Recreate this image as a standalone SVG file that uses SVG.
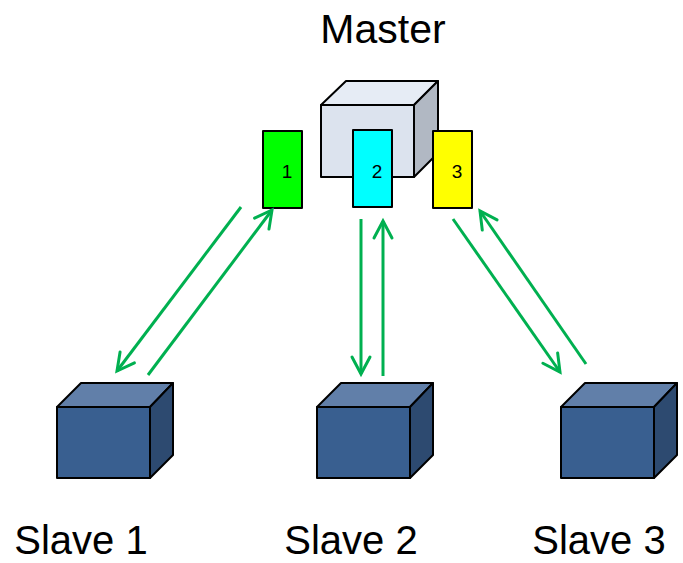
<svg xmlns="http://www.w3.org/2000/svg" width="683" height="563" viewBox="0 0 683 563">
<defs>
<marker id="ah" markerUnits="userSpaceOnUse" markerWidth="40" markerHeight="40" refX="0" refY="0" viewBox="-20 -20 40 40" orient="auto" overflow="visible">
<path d="M-17,-9 L0,0 L-17,9" fill="none" stroke="#00B050" stroke-width="3" stroke-linecap="round" stroke-linejoin="miter"/>
</marker>
</defs>
<style>
.edge{stroke:#00B050;stroke-width:3;fill:none;marker-end:url(#ah)}
.bx{stroke:#000;stroke-width:2;stroke-linejoin:round}
.sf{fill:#395F90}.st{fill:#617FA9}.sr{fill:#2D4A70}
.mf{fill:#DCE3EE}.mt{fill:#E6ECF5}.mr{fill:#B1B8C3}
.lbl{font-family:"Liberation Sans",Arial,sans-serif;font-size:40px;fill:#000}
.num{font-family:"Liberation Sans",Arial,sans-serif;font-size:19px;fill:#000;text-anchor:middle}
</style>
<rect width="683" height="563" fill="#fff"/>
<g id="master">
<polygon class="bx mt" points="321,105 346,81 438,81 414,105"/>
<polygon class="bx mr" points="414,105 438,81 438,153 414,177"/>
<rect class="bx mf" x="321" y="105" width="93" height="72"/>
<text class="lbl" x="383" y="43" text-anchor="middle" style="font-size:41px">Master</text>
</g>
<g id="buf1">
<rect class="bx" x="263" y="131" width="39" height="77" fill="#00FF00"/>
<text class="num" x="287" y="178">1</text>
</g>
<g id="buf2">
<rect class="bx" x="353" y="130" width="39" height="77" fill="#00FFFF"/>
<text class="num" x="377" y="178">2</text>
</g>
<g id="buf3">
<rect class="bx" x="433" y="131" width="39" height="77" fill="#FFFF00"/>
<text class="num" x="457" y="178">3</text>
</g>
<g id="slave1">
<polygon class="bx st" points="57,407 81,383 173,383 150,407"/>
<polygon class="bx sr" points="150,407 173,383 173,455 150,478"/>
<rect class="bx sf" x="57" y="407" width="93" height="71"/>
<text class="lbl" x="81" y="554" text-anchor="middle">Slave 1</text>
</g>
<g id="slave2">
<polygon class="bx st" points="317,407 341,383 433,383 410,407"/>
<polygon class="bx sr" points="410,407 433,383 433,455 410,478"/>
<rect class="bx sf" x="317" y="407" width="93" height="71"/>
<text class="lbl" x="351" y="554" text-anchor="middle">Slave 2</text>
</g>
<g id="slave3">
<polygon class="bx st" points="561,407 585,383 677,383 654,407"/>
<polygon class="bx sr" points="654,407 677,383 677,455 654,478"/>
<rect class="bx sf" x="561" y="407" width="93" height="71"/>
<text class="lbl" x="599" y="554" text-anchor="middle">Slave 3</text>
</g>
<g id="connectors">
<line class="edge" x1="241" y1="207" x2="117" y2="371"/>
<line class="edge" x1="148" y1="375" x2="272" y2="210"/>
<line class="edge" x1="361" y1="219" x2="361" y2="374"/>
<line class="edge" x1="383" y1="376" x2="383" y2="221"/>
<line class="edge" x1="453" y1="219" x2="560" y2="372"/>
<line class="edge" x1="586" y1="364" x2="480" y2="211"/>
</g>
</svg>
